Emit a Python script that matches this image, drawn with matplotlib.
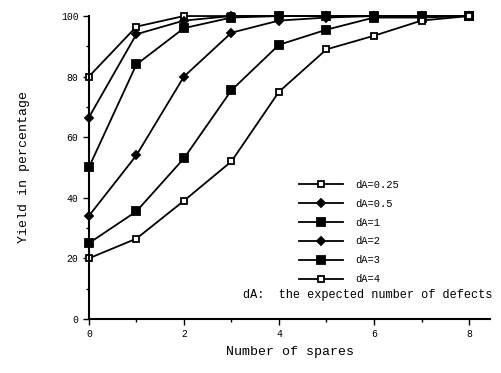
import numpy as np
import matplotlib.pyplot as plt

spares = [0, 1, 2, 3, 4, 5, 6, 7, 8]
labels = ['dA=0.25', 'dA=0.5', 'dA=1', 'dA=2', 'dA=3', 'dA=4']
y_025 = [80, 96.5, 100, 100, 100, 100, 100, 100, 100]
y_05 = [66.5, 94, 98.5, 100, 100, 100, 100, 100, 100]
y_1 = [50, 84, 96, 99.5, 100, 100, 100, 100, 100]
y_2 = [34, 54, 80, 94.5, 98.5, 99.5, 100, 100, 100]
y_3 = [25, 35.5, 53, 75.5, 90.5, 95.5, 99.5, 99.5, 100]
y_4 = [20, 26.5, 39, 52, 75, 89, 93.5, 98.5, 100]

series = [y_025, y_05, y_1, y_2, y_3, y_4]
markers = ['s', 'D', 's', 'D', 's', 's']
fills = ['white', 'black', 'black', 'black', 'black', 'white']
sizes = [5, 4, 6, 4, 6, 5]

plt.rcParams['font.family'] = ['Liberation Mono', 'DejaVu Sans Mono']

fig = plt.figure(figsize=(5.02, 3.73), dpi=100)
ax = fig.add_axes([0.177, 0.145, 0.80, 0.812])

handles = []
for ys, lab, m, fc, ms in zip(series, labels, markers, fills, sizes):
    h, = ax.plot(spares, ys, color='black', linewidth=1.3, marker=m,
                 markersize=ms, markerfacecolor=fc, markeredgecolor='black',
                 markeredgewidth=1.3, clip_on=False, label=lab)
    handles.append(h)

ax.set_xlim(0, 8.45)
ax.set_ylim(0, 100)
ax.spines['top'].set_visible(False)
ax.spines['right'].set_visible(False)
ax.spines['left'].set_linewidth(1.5)
ax.spines['bottom'].set_linewidth(1.5)
ax.set_xticks([0, 2, 4, 6, 8])
ax.set_xticks([1, 3, 5, 7], minor=True)
ax.set_yticks([0, 20, 40, 60, 80, 100])
ax.set_yticks([10, 30, 50, 70, 90], minor=True)
ax.tick_params(axis='both', which='major', labelsize=7, length=4, width=1)
ax.tick_params(axis='both', which='minor', length=2, width=1)
ax.tick_params(axis='x', pad=3)

ax.set_xlabel('Number of spares', fontsize=9.5, labelpad=5)
ax.set_ylabel('Yield in percentage', fontsize=9.5, labelpad=22)

leg = ax.legend(handles=handles, loc='upper left', bbox_to_anchor=(0.5, 0.49),
                frameon=False, fontsize=7.5, handlelength=4.2,
                labelspacing=0.85, handletextpad=1.2)
ax.text(0.383, 0.07, 'dA:  the expected number of defects',
        transform=ax.transAxes, fontsize=8.6)

fig.savefig('out.png', dpi=100)
